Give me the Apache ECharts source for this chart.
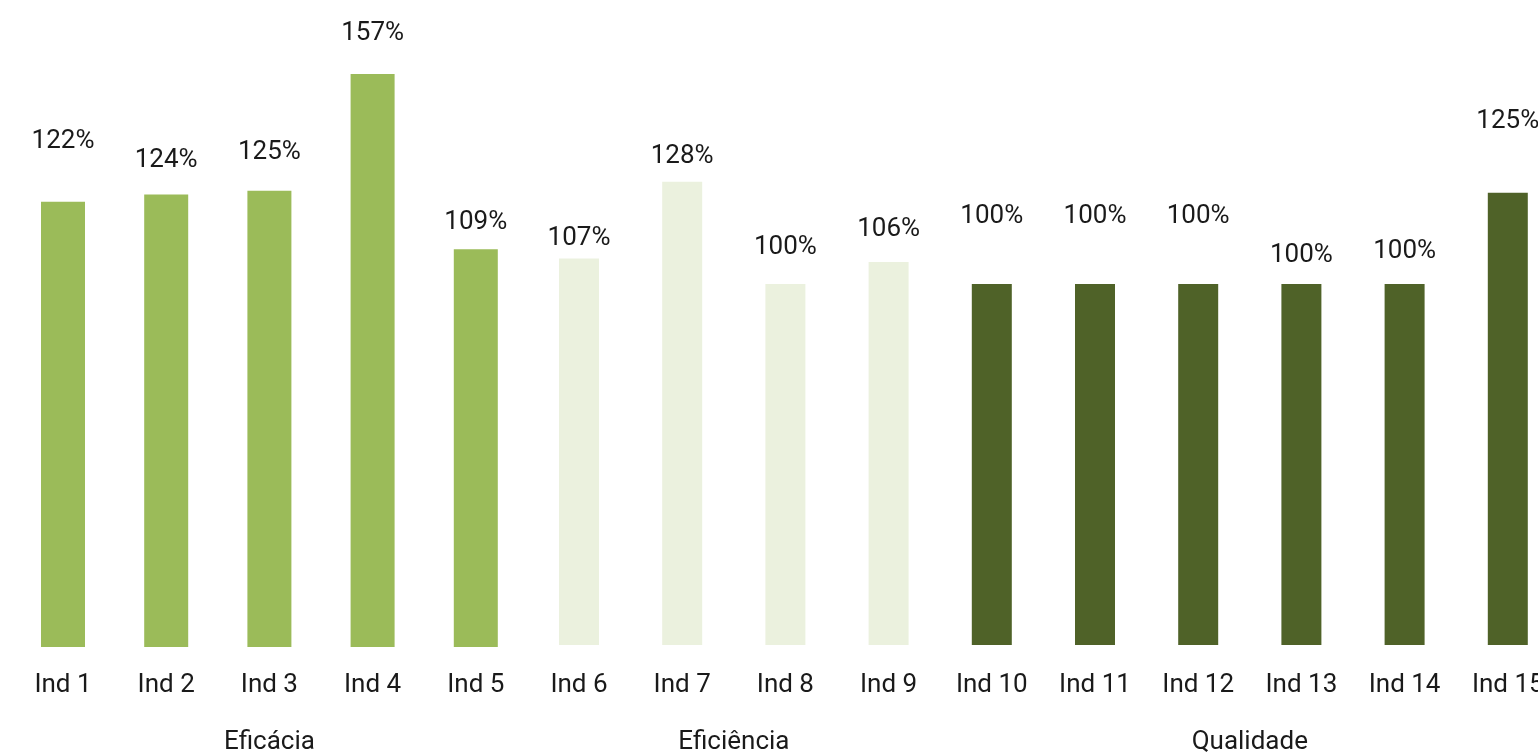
<!DOCTYPE html>
<html>
<head>
<meta charset="utf-8">
<script src="https://cdn.jsdelivr.net/npm/echarts@6/dist/echarts.min.js"></script>
<style>
html,body{margin:0;padding:0;background:#fff;}
#chart{width:1538px;height:755px;}
</style>
</head>
<body>
<div id="chart"></div>
<script>
// ---- data ----
const categories = ['Ind 1','Ind 2','Ind 3','Ind 4','Ind 5','Ind 6','Ind 7','Ind 8','Ind 9','Ind 10','Ind 11','Ind 12','Ind 13','Ind 14','Ind 15'];
const values = [122,124,125,157,109,107,128,100,106,100,100,100,100,100,125];
const groupNames = ['Eficácia','Eficiência','Qualidade'];
const groupSizes = [5,4,6];

// ---- styling ----
const groupColors = ['#9BBB59','#EBF1DE','#4F6228'];
const groupBorder = [0,2,2];
const labelLift = [42,16,20,22,9,0,5,17,13,48,48,48,9,13,51];
const FONT = 'Roboto';

const groupOf = [];
groupSizes.forEach((n,g)=>{for(let k=0;k<n;k++) groupOf.push(g);});

const barData = values.map((v,i)=>({
  value: v,
  itemStyle: {
    color: groupColors[groupOf[i]],
    borderColor: '#ffffff',
    borderWidth: groupBorder[groupOf[i]]
  },
  label: {offset: [0, -labelLift[i]]}
}));

// group label centers (in category units)
const groupCenters = {};
let start = 0;
groupSizes.forEach((n,g)=>{groupCenters[Math.round((start + n/2)*2)] = groupNames[g]; start += n;});

const chart = echarts.init(document.getElementById('chart'));
chart.setOption({
  animation: false,
  grid: {left: 11.4, width: 1548, top: 63, bottom: 108, containLabel: false, outerBoundsMode: 'none'},
  xAxis: [{
    type: 'category',
    data: categories,
    axisLine: {show: false},
    axisTick: {show: false},
    axisLabel: {margin: 25, fontFamily: FONT, fontSize: 26, color: '#1a1a1a', interval: 0}
  },{
    type: 'value',
    min: 0, max: categories.length, interval: 0.5,
    position: 'bottom',
    axisLine: {show: false},
    axisTick: {show: false},
    splitLine: {show: false},
    axisLabel: {
      margin: 82, fontFamily: FONT, fontSize: 26, color: '#1a1a1a',
      showMinLabel: true, showMaxLabel: true,
      formatter: v => groupCenters[Math.round(v*2)] || ''
    }
  }],
  yAxis: {type: 'value', min: 0, max: 160, show: false, splitLine: {show: false}},
  series: [{
    type: 'bar',
    xAxisIndex: 0,
    barWidth: 44,
    data: barData,
    label: {
      show: true, position: 'top', distance: 5,
      fontFamily: FONT, fontSize: 26, color: '#1a1a1a',
      formatter: p => p.value + '%'
    }
  }]
});
</script>
</body>
</html>
